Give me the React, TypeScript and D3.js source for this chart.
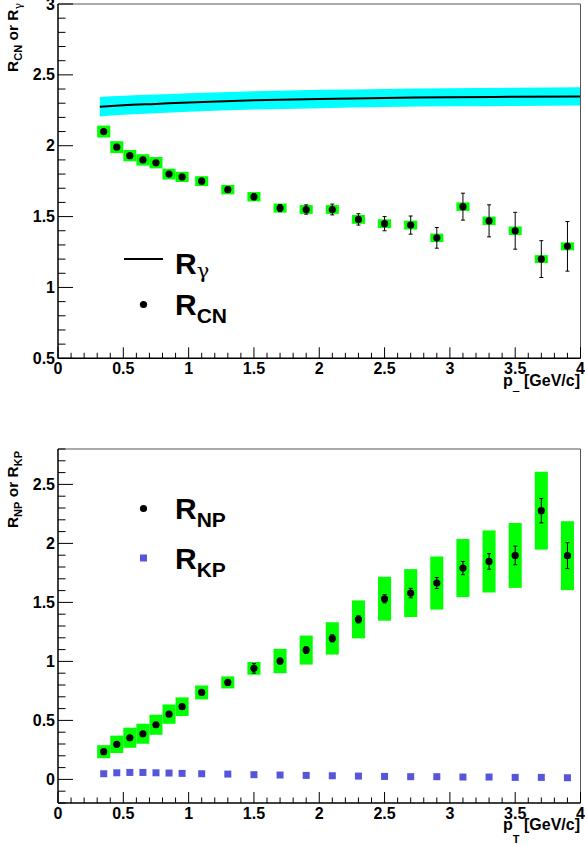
import React from "react";
import * as d3 from "d3";

// pT bin centres (GeV/c)
const ptBins = [0.35, 0.45, 0.55, 0.65, 0.75, 0.85, 0.95, 1.1, 1.3, 1.5, 1.7, 1.9, 2.1, 2.3, 2.5, 2.7, 2.9, 3.1, 3.3, 3.5, 3.7, 3.9];

const rcn = [2.1, 1.99, 1.93, 1.9, 1.88, 1.8, 1.78, 1.75, 1.69, 1.64, 1.56, 1.55, 1.55, 1.48, 1.45, 1.44, 1.35, 1.57, 1.47, 1.4, 1.2, 1.29];
const rcnStat = [0.01, 0.01, 0.01, 0.012, 0.012, 0.012, 0.013, 0.02, 0.018, 0.022, 0.025, 0.033, 0.038, 0.04, 0.05, 0.064, 0.073, 0.095, 0.113, 0.13, 0.13, 0.175];
const rcnSyst = [0.042, 0.042, 0.04, 0.04, 0.04, 0.038, 0.036, 0.035, 0.033, 0.033, 0.032, 0.031, 0.031, 0.031, 0.031, 0.031, 0.03, 0.03, 0.03, 0.03, 0.028, 0.028];

const rGammaPt = [0.32, 0.5, 0.75, 1, 1.5, 2, 2.5, 3, 3.5, 4];
const rGamma = [2.275, 2.285, 2.295, 2.305, 2.32, 2.33, 2.337, 2.342, 2.345, 2.348];
const rGammaErr = [0.068, 0.067, 0.066, 0.066, 0.065, 0.065, 0.064, 0.064, 0.064, 0.064];

const rnp = [0.235, 0.297, 0.353, 0.387, 0.463, 0.553, 0.616, 0.737, 0.822, 0.941, 1.003, 1.096, 1.195, 1.356, 1.531, 1.579, 1.664, 1.791, 1.847, 1.898, 2.277, 1.896];
const rnpStat = [0.01, 0.01, 0.01, 0.012, 0.012, 0.015, 0.015, 0.018, 0.02, 0.04, 0.025, 0.028, 0.03, 0.03, 0.035, 0.04, 0.047, 0.056, 0.066, 0.079, 0.103, 0.11];
const rnpSyst = [0.055, 0.074, 0.085, 0.085, 0.085, 0.082, 0.079, 0.059, 0.051, 0.054, 0.103, 0.123, 0.137, 0.161, 0.186, 0.203, 0.225, 0.246, 0.263, 0.275, 0.33, 0.292];
const rkp = [0.048, 0.056, 0.059, 0.059, 0.056, 0.054, 0.051, 0.048, 0.045, 0.04, 0.037, 0.034, 0.031, 0.028, 0.025, 0.023, 0.023, 0.02, 0.02, 0.017, 0.017, 0.014];

const xTicks = [0, 0.5, 1, 1.5, 2, 2.5, 3, 3.5, 4];
const topYTicks = [0.5, 1, 1.5, 2, 2.5, 3];
const botYTicks = [0, 0.5, 1, 1.5, 2, 2.5];

const FONT = "'Liberation Sans', Arial, Helvetica, sans-serif";
const GREEK = "'DejaVu Serif', serif";
const GREEN = "#00ff00";
const CYAN = "#00ffff";
const BLUE = "#5656dc";
const BOX_W = 0.1;

const x = d3.scaleLinear().domain([0, 4]).range([58, 580.5]);

function Sub({ s, size, dy }) {
  const greek = s === "γ";
  return (
    <tspan fontSize={size} dy={dy} fontFamily={greek ? GREEK : undefined} fontWeight={greek ? "normal" : "bold"}>
      {s}
    </tspan>
  );
}

function Axes({ y, yTicks, yMin, yMax, yTitleEnd, yTitle, titleBase }) {
  const [y0, y1] = [y(yMin), y(yMax)];
  const minorX = d3.range(0, 4.001, 0.1);
  const minorY = d3.range(Math.ceil(yMin * 10) / 10, yMax + 0.001, 0.1);
  return (
    <g>
      <line x1={58} x2={580.5} y1={y1} y2={y1} stroke="#555" strokeWidth={1} />
      <line x1={580.5} x2={580.5} y1={y1} y2={y0} stroke="#555" strokeWidth={1} />
      <line x1={58} x2={58} y1={y0} y2={y1} stroke="#000" strokeWidth={1.5} />
      <line x1={58} x2={580.5} y1={y0} y2={y0} stroke="#000" strokeWidth={1.5} />
      {minorX.map((v, i) => {
        const major = Math.abs(v * 2 - Math.round(v * 2)) < 1e-6;
        return <line key={"mx" + i} x1={x(v)} x2={x(v)} y1={y0} y2={y0 - (major ? 11 : 5.5)} stroke="#000" strokeWidth={1} />;
      })}
      {minorY.map((v, i) => {
        const major = Math.abs(v * 2 - Math.round(v * 2)) < 1e-6;
        return <line key={"my" + i} x1={58} x2={58 + (major ? 15 : 7.5)} y1={y(v)} y2={y(v)} stroke="#000" strokeWidth={1} />;
      })}
      {xTicks.map((v) => (
        <text key={"xl" + v} x={x(v)} y={y0 + 16} textAnchor="middle" fontSize={16} fontWeight="bold">
          {v}
        </text>
      ))}
      {yTicks.map((v) => (
        <text key={"yl" + v} x={55} y={y(v)} dy="0.35em" textAnchor="end" fontSize={16} fontWeight="bold">
          {v}
        </text>
      ))}
      <text x={580} y={titleBase} textAnchor="end" fontSize={16} fontWeight="bold">
        p<tspan fontSize={11} dy={13}>T</tspan>
        <tspan dy={-13} fontSize={16}> [GeV/c]</tspan>
      </text>
      <text transform={`translate(18,${yTitleEnd}) rotate(-90)`} textAnchor="end" fontSize={15.5} fontWeight="bold">
        R<Sub s={yTitle[0]} size={11} dy={4} />
        <tspan dy={-4} fontSize={15.5}> or R</tspan>
        <Sub s={yTitle[1]} size={11} dy={4} />
      </text>
    </g>
  );
}

function Points({ y, vals, stat, syst }) {
  return (
    <g>
      {ptBins.map((p, i) => (
        <rect key={"b" + i} x={x(p - BOX_W / 2)} width={x(p + BOX_W / 2) - x(p - BOX_W / 2)} y={y(vals[i] + syst[i])} height={y(vals[i] - syst[i]) - y(vals[i] + syst[i])} fill={GREEN} />
      ))}
      {ptBins.map((p, i) => (
        <g key={"e" + i} stroke="#000" strokeWidth={1}>
          <line x1={x(p)} x2={x(p)} y1={y(vals[i] + stat[i])} y2={y(vals[i] - stat[i])} />
          <line x1={x(p) - 2} x2={x(p) + 2} y1={y(vals[i] + stat[i])} y2={y(vals[i] + stat[i])} />
          <line x1={x(p) - 2} x2={x(p) + 2} y1={y(vals[i] - stat[i])} y2={y(vals[i] - stat[i])} />
        </g>
      ))}
      {ptBins.map((p, i) => (
        <circle key={"c" + i} cx={x(p)} cy={y(vals[i])} r={3.6} fill="#000" />
      ))}
    </g>
  );
}

export default function App() {
  const yTop = d3.scaleLinear().domain([0.5, 3]).range([358.3, 4]);
  const yBot = d3.scaleLinear().domain([-0.2, 2.8]).range([803, 449]);

  const band = d3
    .area<number>()
    .x((_, i) => x(rGammaPt[i]))
    .y0((_, i) => yTop(rGamma[i] - rGammaErr[i]))
    .y1((_, i) => yTop(rGamma[i] + rGammaErr[i]))
    .curve(d3.curveMonotoneX);
  const line = d3
    .line<number>()
    .x((_, i) => x(rGammaPt[i]))
    .y((d) => yTop(d))
    .curve(d3.curveMonotoneX);

  return (
    <svg width={585} height={845} style={{ position: "absolute", left: 0, top: 0, background: "#fff" }} fontFamily={FONT}>
      <defs>
        <clipPath id="topPad">
          <rect x={0} y={0} width={585} height={392} />
        </clipPath>
      </defs>
      <rect width={585} height={845} fill="#fff" />

      {/* upper pad: R_CN and R_gamma */}
      <g clipPath="url(#topPad)">
        <path d={band(rGamma) || ""} fill={CYAN} />
        <path d={line(rGamma) || ""} fill="none" stroke="#000" strokeWidth={2} />
        <Points y={yTop} vals={rcn} stat={rcnStat} syst={rcnSyst} />
        <Axes y={yTop} yTicks={topYTicks} yMin={0.5} yMax={3} yTitleEnd={3} yTitle={["CN", "γ"]} titleBase={386} />
        <line x1={124} x2={163} y1={259} y2={259} stroke="#000" strokeWidth={2} />
        <text x={175} y={274} fontSize={30} fontWeight="bold">
          R<Sub s="γ" size={21} dy={4} />
        </text>
        <circle cx={143.5} cy={304.5} r={3.6} fill="#000" />
        <text x={175} y={315} fontSize={30} fontWeight="bold">
          R<Sub s="CN" size={21} dy={8} />
        </text>
      </g>

      {/* lower pad: R_NP and R_KP */}
      <g>
        <Points y={yBot} vals={rnp} stat={rnpStat} syst={rnpSyst} />
        {ptBins.map((p, i) => (
          <rect key={"kp" + i} x={x(p) - 3.5} y={yBot(rkp[i]) - 3.5} width={7} height={7} fill={BLUE} />
        ))}
        <Axes y={yBot} yTicks={botYTicks} yMin={-0.2} yMax={2.8} yTitleEnd={451} yTitle={["NP", "KP"]} titleBase={830} />
        <circle cx={143.5} cy={508.5} r={3.6} fill="#000" />
        <text x={175} y={519} fontSize={30} fontWeight="bold">
          R<Sub s="NP" size={21} dy={8} />
        </text>
        <rect x={140} y={554.5} width={7} height={7} fill={BLUE} />
        <text x={175} y={569} fontSize={30} fontWeight="bold">
          R<Sub s="KP" size={21} dy={8} />
        </text>
      </g>
    </svg>
  );
}
